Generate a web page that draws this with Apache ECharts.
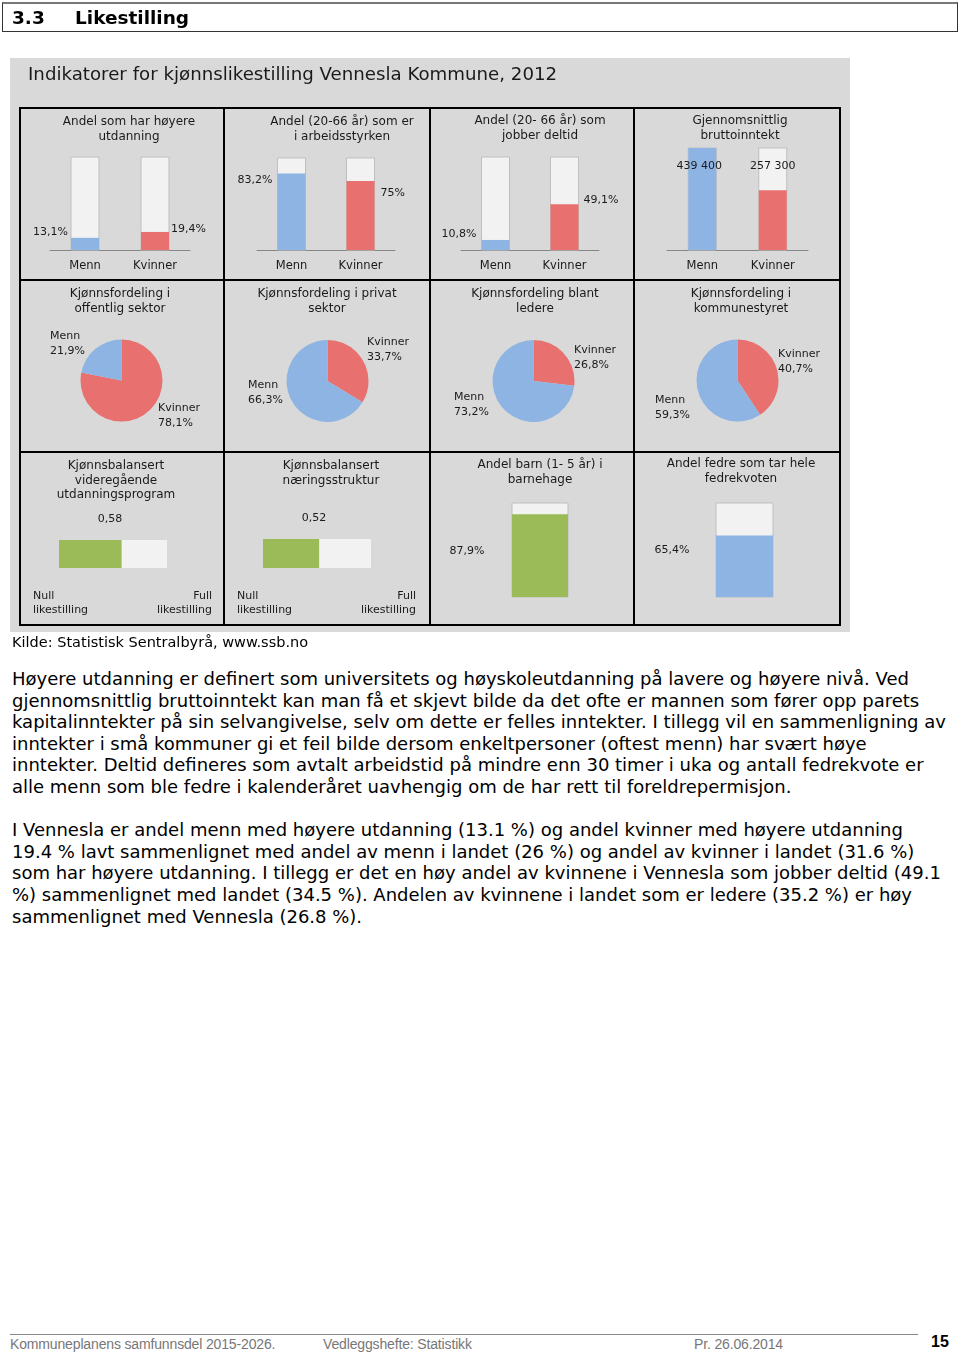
<!DOCTYPE html>
<html>
<head>
<meta charset="utf-8">
<script src="https://cdn.jsdelivr.net/npm/echarts@6/dist/echarts.min.js"></script>
<style>
    body { margin: 0; width: 960px; height: 1354px; position: relative; background: #fff; font-family: "DejaVu Sans", Verdana, sans-serif; color: #000; }
    #chart { position: absolute; left: 0; top: 0; width: 960px; height: 660px; }
    #head { position: absolute; left: 2px; top: 2px; width: 954px; height: 27px; border: 1px solid #333; border-top: 2px solid #777; font-weight: bold; font-size: 18.5px; line-height: 27px; }
    #head span { position: absolute; top: 0; }
    #kilde { position: absolute; left: 12px; top: 633px; font-size: 14.5px; line-height: 18px; }
    #text { position: absolute; left: 12px; top: 668px; font-size: 18px; line-height: 21.6px; white-space: nowrap; }
    #foot-line { position: absolute; left: 10px; top: 1334px; width: 908px; height: 1px; background: #888; }
    .foot { position: absolute; top: 1336px; font-family: "Liberation Sans", Arial, sans-serif; font-size: 14px; letter-spacing: -0.15px; color: #777; line-height: 16px; }
</style>
</head>
<body>
<div id="chart"></div>
<div id="head"><span style="left:9px">3.3</span><span style="left:72px">Likestilling</span></div>
<div id="kilde">Kilde: Statistisk Sentralbyrå, www.ssb.no</div>
<div id="text">Høyere utdanning er definert som universitets og høyskoleutdanning på lavere og høyere nivå. Ved<br>gjennomsnittlig bruttoinntekt kan man få et skjevt bilde da det ofte er mannen som fører opp parets<br>kapitalinntekter på sin selvangivelse, selv om dette er felles inntekter. I tillegg vil en sammenligning av<br>inntekter i små kommuner gi et feil bilde dersom enkeltpersoner (oftest menn) har svært høye<br>inntekter. Deltid defineres som avtalt arbeidstid på mindre enn 30 timer i uka og antall fedrekvote er<br>alle menn som ble fedre i kalenderåret uavhengig om de har rett til foreldrepermisjon.<br><br>I Vennesla er andel menn med høyere utdanning (13.1 %) og andel kvinner med høyere utdanning<br>19.4 % lavt sammenlignet med andel av menn i landet (26 %) og andel av kvinner i landet (31.6 %)<br>som har høyere utdanning. I tillegg er det en høy andel av kvinnene i Vennesla som jobber deltid (49.1<br>%) sammenlignet med landet (34.5 %). Andelen av kvinnene i landet som er ledere (35.2 %) er høy<br>sammenlignet med Vennesla (26.8 %).</div>
<div id="foot-line"></div>
<div class="foot" style="left:10px">Kommuneplanens samfunnsdel 2015-2026.</div>
<div class="foot" style="left:323px">Vedleggshefte: Statistikk</div>
<div class="foot" style="left:694px">Pr. 26.06.2014</div>
<div class="foot" style="left:931px;top:1334px;color:#000;font-weight:bold;font-size:16px;letter-spacing:0">15</div>
<script>
    // data
    var genderCats = ['Menn', 'Kvinner']
    var higherEdu = [13.1, 19.4]
    var labourForce = [83.2, 75]
    var partTime = [10.8, 49.1]
    var grossIncome = [439400, 257300]
    var publicSector = [21.9, 78.1]     // Menn, Kvinner
    var privateSector = [66.3, 33.7]
    var leaders = [73.2, 26.8]
    var council = [59.3, 40.7]
    var eduBalance = [0.58]
    var industryBalance = [0.52]
    var kindergarten = [87.9]
    var paternity = [65.4]
    var balanceEnds = ['Null\nlikestilling', 'Full\nlikestilling']

    var FONT = 'DejaVu Sans'
    var BLUE = '#8DB4E2', RED = '#E8706E', GREEN = '#9BBB59', LIGHT = '#F2F2F2', BG = '#D9D9D9'
    var TXT = '#1a1a1a'

    function pct(v) { return String(v).replace('.', ',') + '%' }
    function money(v) { return String(v).replace(/\B(?=(\d{3})+(?!\d))/g, ' ') }
    function dec2(v) { return v.toFixed(2).replace('.', ',') }

    var grids = [], xAxes = [], yAxes = [], series = []

    function addGrid(g, xAxis, yAxis) {
        var i = grids.length
        grids.push({ left: g[0], top: g[1], width: g[2], height: g[3] })
        xAxis.gridIndex = i
        yAxis.gridIndex = i
        xAxes.push(xAxis)
        yAxes.push(yAxis)
        return i
    }

    // top row: Menn / Kvinner bars against a 100% background bar
    var topPanels = [
        { vals: higherEdu, max: 100, grid: [50, 157, 140, 93], fmt: pct,
          lbl: [{ position: [-3, -6], align: 'right' }, { position: [30, -3], align: 'left' }] },
        { vals: labourForce, max: 100, grid: [257, 158, 138, 92], fmt: pct,
          lbl: [{ position: [-5, 7], align: 'right' }, { position: [34, 12.5], align: 'left' }] },
        { vals: partTime, max: 100, grid: [461, 157, 138, 93], fmt: pct,
          lbl: [{ position: [-5, -5.5], align: 'right' }, { position: [33, -4.5], align: 'left' }] },
        { vals: grossIncome, max: grossIncome[0], grid: [667, 148, 141, 102], fmt: money,
          lbl: [{ position: [11, 18], align: 'center' }, { position: [14, -24], align: 'center' }] }
    ]
    topPanels.forEach(function (p) {
        var i = addGrid(p.grid, {
            type: 'category', data: genderCats,
            axisLine: { lineStyle: { color: '#868686' } },
            axisTick: { length: 4, lineStyle: { color: '#868686' } },
            axisLabel: { color: TXT, fontSize: 11.5, fontFamily: FONT, margin: 10 }
        }, { type: 'value', min: 0, max: p.max, show: false })
        series.push({
            type: 'bar', xAxisIndex: i, yAxisIndex: i, barWidth: 28,
            showBackground: true,
            backgroundStyle: { color: LIGHT, borderColor: '#BFBFBF', borderWidth: 1 },
            data: p.vals.map(function (v, k) {
                return {
                    value: v,
                    itemStyle: { color: [BLUE, RED][k] },
                    label: {
                        show: true, position: p.lbl[k].position, align: p.lbl[k].align, verticalAlign: 'middle',
                        formatter: function (o) { return p.fmt(o.value) },
                        color: TXT, fontSize: 11, fontFamily: FONT
                    }
                }
            })
        })
    })

    // middle row: pies, Kvinner clockwise from 12 o'clock
    var piePanels = [
        { vals: publicSector, center: [121.5, 380.5], lblPos: [[158, 401], [50, 329]] },
        { vals: privateSector, center: [327.5, 381], lblPos: [[367, 335], [248, 378]] },
        { vals: leaders, center: [533.5, 381], lblPos: [[574, 343], [454, 390]] },
        { vals: council, center: [737.5, 380.5], lblPos: [[778, 347], [655, 393]] }
    ]
    piePanels.forEach(function (p) {
        series.push({
            type: 'pie', center: p.center, radius: 41, startAngle: 90, clockwise: true,
            silent: true,
            data: [
                { name: genderCats[1], value: p.vals[1], itemStyle: { color: RED } },
                { name: genderCats[0], value: p.vals[0], itemStyle: { color: BLUE } }
            ],
            label: {
                show: true, position: 'outside', color: TXT, fontSize: 11, fontFamily: FONT, lineHeight: 15,
                formatter: function (o) { return o.name + '\n' + pct(o.value) }
            },
            labelLine: { show: false },
            labelLayout: function (o) {
                var q = p.lblPos[o.dataIndex]
                return { x: q[0], y: q[1], align: 'left', verticalAlign: 'top' }
            }
        })
    })

    // bottom row: balance indices (horizontal) and shares (vertical)
    var balancePanels = [
        { vals: eduBalance, grid: [59, 540, 108, 28], lbl: [51, -21] },
        { vals: industryBalance, grid: [263, 539, 108, 29], lbl: [51, -21] }
    ]
    balancePanels.forEach(function (p) {
        var i = addGrid(p.grid, { type: 'value', min: 0, max: 1, show: false },
            { type: 'category', data: ['x'], show: false })
        series.push({
            type: 'bar', xAxisIndex: i, yAxisIndex: i, barWidth: p.grid[3],
            showBackground: true, backgroundStyle: { color: LIGHT },
            itemStyle: { color: GREEN },
            label: {
                show: true, position: p.lbl, align: 'center', verticalAlign: 'middle',
                formatter: function (o) { return dec2(o.value) },
                color: TXT, fontSize: 11, fontFamily: FONT
            },
            data: p.vals
        })
    })

    var sharePanels = [
        { vals: kindergarten, grid: [512, 503, 56, 94], color: GREEN, lbl: [-45, 36.5] },
        { vals: paternity, grid: [716, 503, 57, 94], color: BLUE, lbl: [-44, 14.5] }
    ]
    sharePanels.forEach(function (p) {
        var i = addGrid(p.grid, { type: 'category', data: ['x'], show: false },
            { type: 'value', min: 0, max: 100, show: false })
        series.push({
            type: 'bar', xAxisIndex: i, yAxisIndex: i, barWidth: p.grid[2],
            showBackground: true, backgroundStyle: { color: LIGHT, borderColor: '#BFBFBF', borderWidth: 1 },
            itemStyle: { color: p.color },
            label: {
                show: true, position: p.lbl, align: 'center', verticalAlign: 'middle',
                formatter: function (o) { return pct(o.value) },
                color: TXT, fontSize: 11, fontFamily: FONT
            },
            data: p.vals
        })
    })

    // panel titles and frame
    var titles = [
        ['Andel som har høyere\nutdanning', 129, 115],
        ['Andel (20-66 år) som er\ni arbeidsstyrken', 342, 115],
        ['Andel (20- 66 år) som\njobber deltid', 540, 114],
        ['Gjennomsnittlig\nbruttoinntekt', 740, 114],
        ['Kjønnsfordeling i\noffentlig sektor', 120, 287],
        ['Kjønnsfordeling i privat\nsektor', 327, 287],
        ['Kjønnsfordeling blant\nledere', 535, 287],
        ['Kjønnsfordeling i\nkommunestyret', 741, 287],
        ['Kjønnsbalansert\nvideregående\nutdanningsprogram', 116, 459],
        ['Kjønnsbalansert\nnæringsstruktur', 331, 459],
        ['Andel barn (1- 5 år) i\nbarnehage', 540, 458],
        ['Andel fedre som tar hele\nfedrekvoten', 741, 457]
    ]
    var graphic = [
        { type: 'rect', z: -10, shape: { x: 10, y: 58, width: 840, height: 574 }, style: { fill: BG } },
        { type: 'text', x: 28, y: 75, style: { text: 'Indikatorer for kjønnslikestilling Vennesla Kommune, 2012', fontSize: 18.2, fontFamily: FONT, fill: TXT, align: 'left', verticalAlign: 'middle' } }
    ]
    titles.forEach(function (t) {
        graphic.push({ type: 'text', x: t[1], y: t[2], style: { text: t[0], fontSize: 12, fontFamily: FONT, fill: TXT, lineHeight: 14.5, align: 'center', verticalAlign: 'top' } })
    })
    ;[[33, 212], [237, 416]].forEach(function (xs) {
        graphic.push({ type: 'text', x: xs[0], y: 589, style: { text: balanceEnds[0], fontSize: 11, fontFamily: FONT, fill: TXT, lineHeight: 14, align: 'left', verticalAlign: 'top' } })
        graphic.push({ type: 'text', x: xs[1], y: 589, style: { text: balanceEnds[1], fontSize: 11, fontFamily: FONT, fill: TXT, lineHeight: 14, align: 'right', verticalAlign: 'top' } })
    })
    var frame = { stroke: '#000', lineWidth: 2, fill: null }
    graphic.push({ type: 'rect', z: 50, shape: { x: 20, y: 108, width: 820, height: 517 }, style: frame })
    ;[224, 430, 634].forEach(function (x) {
        graphic.push({ type: 'line', z: 50, shape: { x1: x, y1: 108, x2: x, y2: 625 }, style: frame })
    })
    ;[280, 452].forEach(function (y) {
        graphic.push({ type: 'line', z: 50, shape: { x1: 20, y1: y, x2: 840, y2: y }, style: frame })
    })

    var chart = echarts.init(document.getElementById('chart'), null, { renderer: 'canvas' })
    chart.setOption({
        animation: false,
        textStyle: { fontFamily: FONT },
        grid: grids,
        xAxis: xAxes,
        yAxis: yAxes,
        series: series,
        graphic: graphic
    })
</script>
</body>
</html>
